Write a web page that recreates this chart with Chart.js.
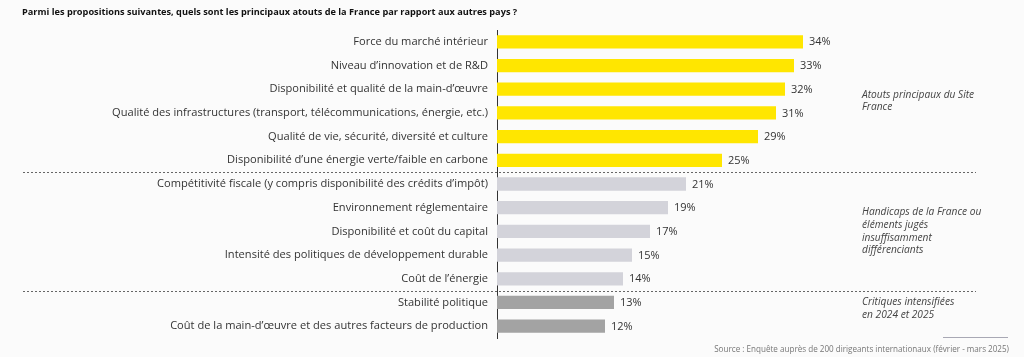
<!DOCTYPE html>
<html>
<head>
<meta charset="utf-8">
<script src="https://cdn.jsdelivr.net/npm/chart.js@4"></script>
<style>
html,body{margin:0;padding:0;background:#fbfbfb;}
#wrap{width:1024px;height:357px;position:relative;}
</style>
</head>
<body>
<div id="wrap"><canvas id="c" width="1024" height="357"></canvas></div>
<script>
const titleText = "Parmi les propositions suivantes, quels sont les principaux atouts de la France par rapport aux autres pays ?";
const categories = [
  "Force du marché intérieur",
  "Niveau d\u2019innovation et de R&D",
  "Disponibilité et qualité de la main-d\u2019œuvre",
  "Qualité des infrastructures (transport, télécommunications, énergie, etc.)",
  "Qualité de vie, sécurité, diversité et culture",
  "Disponibilité d\u2019une énergie verte/faible en carbone",
  "Compétitivité fiscale (y compris disponibilité des crédits d\u2019impôt)",
  "Environnement réglementaire",
  "Disponibilité et coût du capital",
  "Intensité des politiques de développement durable",
  "Coût de l\u2019énergie",
  "Stabilité politique",
  "Coût de la main-d\u2019œuvre et des autres facteurs de production"
];
const values = [34, 33, 32, 31, 29, 25, 21, 19, 17, 15, 14, 13, 12];
const groups = [0, 0, 0, 0, 0, 0, 1, 1, 1, 1, 1, 2, 2];
const groupColors = ["#FFE600", "#D3D3DA", "#A3A3A3"];
const groupNotes = [
  ["Atouts principaux du Site", "France"],
  ["Handicaps de la France ou", "éléments jugés", "insuffisamment", "différenciants"],
  ["Critiques intensifiées", "en 2024 et 2025"]
];
const sourceText = "Source : Enquête auprès de 200 dirigeants internationaux (février - mars 2025)";

const FONT = "'Open Sans', 'Liberation Sans', Arial, sans-serif";

const decor = {
  id: 'decor',
  afterDraw(chart) {
    const ctx = chart.ctx;
    const y = chart.scales.y, x = chart.scales.x;
    ctx.save();
    // title
    ctx.fillStyle = '#111';
    ctx.font = "bold 9.2px " + FONT;
    ctx.textBaseline = 'middle';
    ctx.textAlign = 'left';
    ctx.fillText(titleText, 22, 12);
    // value labels
    ctx.font = "11px " + FONT;
    ctx.fillStyle = '#333';
    values.forEach((v, i) => {
      ctx.fillText(v + '%', x.getPixelForValue(v) + 6, y.getPixelForValue(i) + 0.5);
    });
    // dashed separators
    ctx.strokeStyle = '#666';
    ctx.lineWidth = 1;
    ctx.setLineDash([2, 2]);
    for (let i = 1; i < groups.length; i++) {
      if (groups[i] !== groups[i - 1]) {
        const py = Math.round((y.getPixelForValue(i - 1) + y.getPixelForValue(i)) / 2) + 0.5;
        ctx.beginPath();
        ctx.moveTo(23, py);
        ctx.lineTo(976, py);
        ctx.stroke();
      }
    }
    ctx.setLineDash([]);
    // group notes
    ctx.font = "italic 10.2px " + FONT;
    ctx.fillStyle = '#444';
    const lh = 12.8;
    groupNotes.forEach((lines, g) => {
      const idx = groups.map((gg, i) => gg === g ? i : -1).filter(i => i >= 0);
      let cy = (y.getPixelForValue(idx[0]) + y.getPixelForValue(idx[idx.length - 1])) / 2;
      if (g === 2) cy -= 6;
      const y0 = cy - (lines.length - 1) * lh / 2;
      lines.forEach((t, k) => ctx.fillText(t, 862, y0 + k * lh));
    });
    // source
    ctx.strokeStyle = '#A8A8B4';
    ctx.beginPath();
    ctx.moveTo(943, 337.5);
    ctx.lineTo(1008, 337.5);
    ctx.stroke();
    ctx.font = "8.1px " + FONT;
    ctx.fillStyle = '#777';
    ctx.textAlign = 'right';
    ctx.fillText(sourceText, 1009, 350);
    ctx.restore();
  }
};

new Chart(document.getElementById('c'), {
  type: 'bar',
  data: {
    labels: categories,
    datasets: [{
      data: values,
      backgroundColor: groups.map(g => groupColors[g]),
      borderWidth: 0,
      barPercentage: 0.56,
      categoryPercentage: 1.0
    }]
  },
  options: {
    indexAxis: 'y',
    responsive: false,
    animation: false,
    devicePixelRatio: 1,
    layout: { padding: { left: 0, top: 30, right: 14, bottom: 19 } },
    plugins: { legend: { display: false }, tooltip: { enabled: false }, title: { display: false } },
    scales: {
      x: { display: false, min: 0, max: 57 },
      y: {
        grid: { display: false, drawTicks: false },
        border: { display: true, color: '#333', width: 1 },
        ticks: { color: '#333', font: { family: FONT, size: 11.1 }, padding: 9, autoSkip: false },
        afterFit(s) { s.width = 497; }
      }
    }
  },
  plugins: [decor]
});
</script>
</body>
</html>
